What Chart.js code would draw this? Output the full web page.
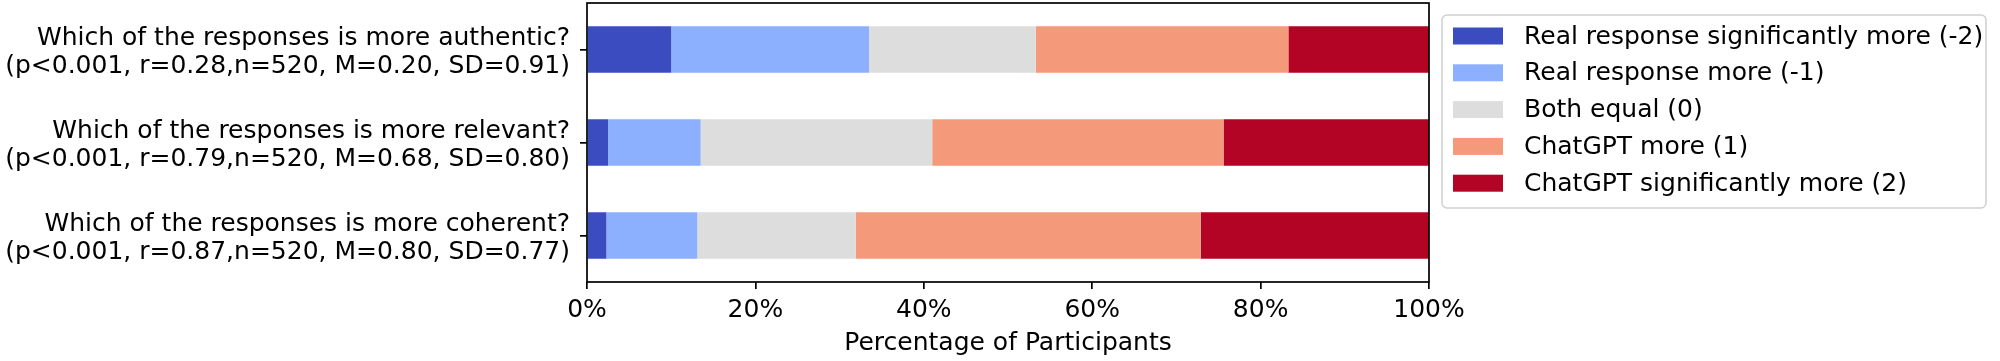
<!DOCTYPE html>
<html>
<head>
<meta charset="utf-8">
<script src="https://cdn.jsdelivr.net/npm/chart.js@4"></script>
<style>
    body { margin: 0; background: #ffffff; }
    #wrap { width: 2000px; height: 361px; }
</style>
</head>
<body>
<div id="wrap"><canvas id="likert-chart" width="2000" height="361"></canvas></div>
<script>
// Likert chart: ChatGPT vs real responses

// Questions (y axis, top to bottom)
const questions = [
    ['Which of the responses is more authentic?', '(p<0.001, r=0.28,n=520, M=0.20, SD=0.91)'],
    ['Which of the responses is more relevant?', '(p<0.001, r=0.79,n=520, M=0.68, SD=0.80)'],
    ['Which of the responses is more coherent?', '(p<0.001, r=0.87,n=520, M=0.80, SD=0.77)']
];

// Answer options (legend)
const answerLabels = [
    'Real response significantly more (-2)',
    'Real response more (-1)',
    'Both equal (0)',
    'ChatGPT more (1)',
    'ChatGPT significantly more (2)'
];

// Percent of participants per answer, one value per question
const realSignificantlyMore = [10.0, 2.5, 2.3];
const realMore = [23.5, 11.0, 10.8];
const bothEqual = [19.8, 27.5, 18.8];
const chatgptMore = [30.0, 34.6, 41.0];
const chatgptSignificantlyMore = [16.7, 24.4, 27.1];

// X axis ticks
const xTickValues = [0, 20, 40, 60, 80, 100];

// coolwarm colours
const answerColors = ['#3b4cc0', '#8db0fe', '#dddddd', '#f49a7b', '#b40426'];

const fontFamily = 'DejaVu Sans';
Chart.defaults.color = '#000000';
Chart.defaults.font.family = fontFamily;

// Box around the plot area
const framePlugin = {
    id: 'frame',
    afterDatasetsDraw(chart) {
        const { ctx, chartArea } = chart;
        ctx.save();
        ctx.strokeStyle = '#000000';
        ctx.lineWidth = 1.7;
        ctx.strokeRect(chartArea.left, chartArea.top,
            chartArea.right - chartArea.left, chartArea.bottom - chartArea.top);
        ctx.restore();
    }
};

// Legend box on the right, matplotlib style
const legendPlugin = {
    id: 'sideLegend',
    afterDraw(chart) {
        const ctx = chart.ctx;
        const boxX = 1442, boxY = 15, boxW = 544, boxH = 193;
        const rowStep = 36.8;
        ctx.save();
        ctx.beginPath();
        ctx.roundRect(boxX, boxY, boxW, boxH, 5);
        ctx.fillStyle = 'rgba(255, 255, 255, 0.8)';
        ctx.fill();
        ctx.strokeStyle = '#d0d0d0';
        ctx.lineWidth = 1.5;
        ctx.stroke();

        ctx.font = '25px "' + fontFamily + '"';
        ctx.textBaseline = 'middle';
        ctx.textAlign = 'left';
        chart.data.datasets.forEach((ds, i) => {
            const cy = 36 + i * rowStep;
            ctx.fillStyle = ds.backgroundColor;
            ctx.fillRect(1453, cy - 8.5, 50, 17);
            ctx.fillStyle = '#000000';
            ctx.fillText(ds.label, 1524, cy + 1);
        });
        ctx.restore();
    }
};

const seriesValues = [realSignificantlyMore, realMore, bothEqual, chatgptMore, chatgptSignificantlyMore];

const ctx = document.getElementById('likert-chart');

new Chart(ctx, {
    type: 'bar',
    data: {
        labels: questions,
        datasets: answerLabels.map((label, i) => ({
            label: label,
            data: seriesValues[i],
            backgroundColor: answerColors[i],
            borderWidth: 0,
            categoryPercentage: 1.0,
            barPercentage: 0.5
        }))
    },
    options: {
        indexAxis: 'y',
        responsive: false,
        animation: false,
        devicePixelRatio: 1,
        layout: {
            padding: { left: 0, right: 571, top: 3, bottom: 0 }
        },
        plugins: {
            legend: { display: false },
            tooltip: { enabled: false }
        },
        scales: {
            x: {
                stacked: true,
                min: 0,
                max: 100,
                afterBuildTicks: scale => {
                    scale.ticks = xTickValues.map(v => ({ value: v }));
                },
                afterFit: scale => {
                    scale.height = 79;
                    scale.paddingLeft = 0;
                    scale.paddingRight = 0;
                },
                ticks: {
                    callback: v => v + '%',
                    font: { size: 25 },
                    color: '#000000',
                    padding: 6,
                    maxRotation: 0
                },
                grid: {
                    drawOnChartArea: false,
                    drawTicks: true,
                    tickLength: 7,
                    color: '#000000',
                    lineWidth: 1.7
                },
                border: { display: false },
                title: {
                    display: true,
                    text: 'Percentage of Participants',
                    font: { size: 25 },
                    color: '#000000',
                    padding: { top: 0, bottom: 3 }
                }
            },
            y: {
                stacked: true,
                afterFit: scale => {
                    scale.width = 587;
                    // no extra room for the half label height above/below
                    scale.paddingTop = 0;
                    scale.paddingBottom = 0;
                },
                ticks: {
                    font: { size: 25, lineHeight: 1.14 },
                    color: '#000000',
                    padding: 10,
                    labelOffset: 3
                },
                grid: {
                    offset: false,
                    drawOnChartArea: false,
                    drawTicks: true,
                    tickLength: 7,
                    color: '#000000',
                    lineWidth: 1.7
                },
                border: { display: false }
            }
        }
    },
    plugins: [framePlugin, legendPlugin]
});
</script>
</body>
</html>
